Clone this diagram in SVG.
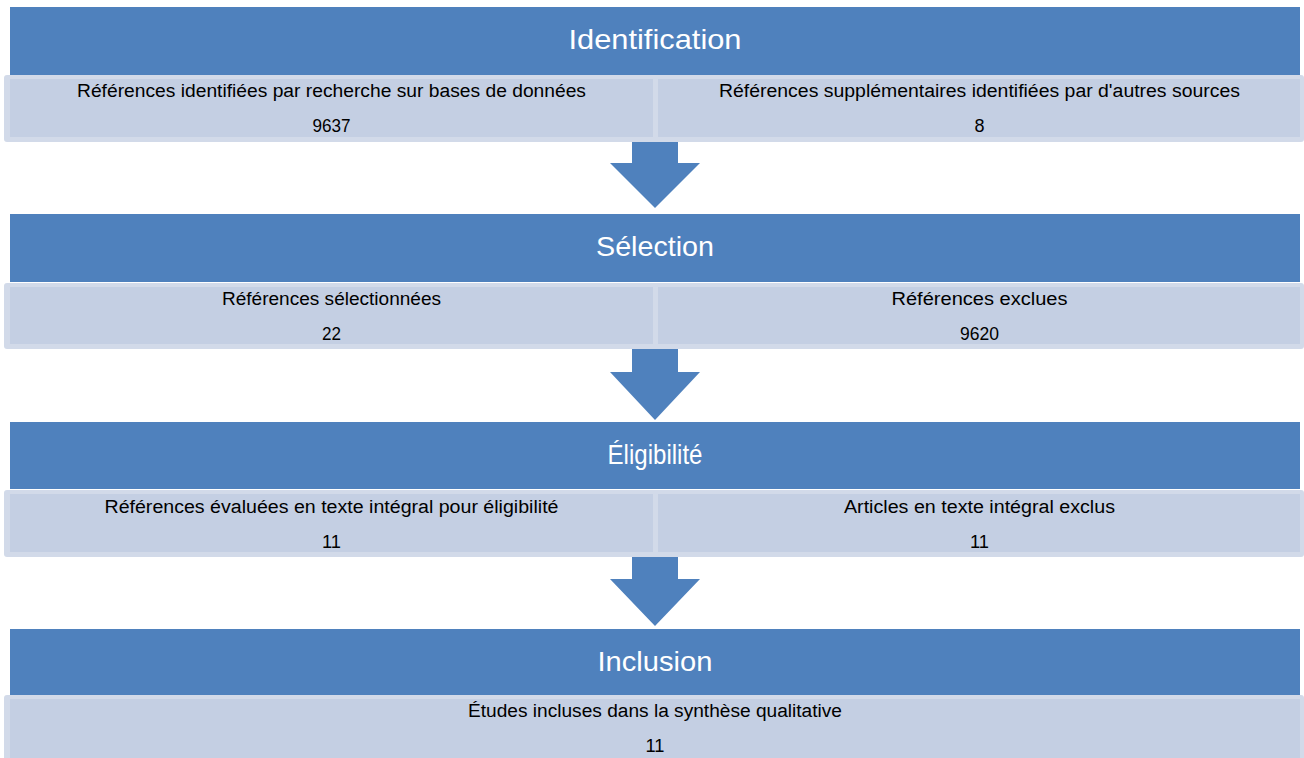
<svg xmlns="http://www.w3.org/2000/svg" width="1304" height="758" viewBox="0 0 1304 758">
<style>
.hdr{fill:#4f81bd}
.subo{fill:#d2dae9}
.subi{fill:#c4cfe3}
.arrow{fill:#4f81bd}
.ht{font-family:"Liberation Sans",Arial,sans-serif;font-size:28px;fill:#ffffff;text-anchor:middle}
.st{font-family:"Liberation Sans",Arial,sans-serif;font-size:18px;fill:#000000;text-anchor:middle}
</style>
<rect width="1304" height="758" fill="#ffffff"/>

<g id="identification">
<rect class="hdr" x="10" y="7" width="1290" height="68"/>
<text class="ht" x="655" y="49" textLength="173" lengthAdjust="spacingAndGlyphs">Identification</text>
</g>
<g id="identification-detail">
<rect class="subo" x="4" y="75" width="1300" height="67" rx="3"/>
<rect class="subi" x="10" y="79" width="643" height="58"/>
<rect class="subi" x="658" y="79" width="642" height="58"/>
<text class="st" x="331.5" y="97" textLength="509" lengthAdjust="spacingAndGlyphs">Références identifiées par recherche sur bases de données</text>
<text class="st" x="331.5" y="132" textLength="38" lengthAdjust="spacingAndGlyphs">9637</text>
<text class="st" x="979.5" y="97" textLength="521" lengthAdjust="spacingAndGlyphs">Références supplémentaires identifiées par d'autres sources</text>
<text class="st" x="979.5" y="132">8</text>
</g>

<g id="selection">
<rect class="hdr" x="10" y="214" width="1290" height="68"/>
<text class="ht" x="655" y="256" textLength="118" lengthAdjust="spacingAndGlyphs">Sélection</text>
</g>
<g id="selection-detail">
<rect class="subo" x="4" y="283" width="1300" height="66" rx="3"/>
<rect class="subi" x="10" y="287" width="643" height="57"/>
<rect class="subi" x="658" y="287" width="642" height="57"/>
<text class="st" x="331.5" y="305" textLength="219" lengthAdjust="spacingAndGlyphs">Références sélectionnées</text>
<text class="st" x="331.5" y="340" textLength="19" lengthAdjust="spacingAndGlyphs">22</text>
<text class="st" x="979.5" y="305" textLength="176" lengthAdjust="spacingAndGlyphs">Références exclues</text>
<text class="st" x="979.5" y="340" textLength="39" lengthAdjust="spacingAndGlyphs">9620</text>
</g>

<g id="eligibilite">
<rect class="hdr" x="10" y="422" width="1290" height="67"/>
<text class="ht" x="655" y="464" textLength="95" lengthAdjust="spacingAndGlyphs">Éligibilité</text>
</g>
<g id="eligibilite-detail">
<rect class="subo" x="4" y="490" width="1300" height="67" rx="3"/>
<rect class="subi" x="10" y="494" width="643" height="58"/>
<rect class="subi" x="658" y="494" width="642" height="58"/>
<text class="st" x="331.5" y="513" textLength="454" lengthAdjust="spacingAndGlyphs">Références évaluées en texte intégral pour éligibilité</text>
<text class="st" x="331.5" y="548" textLength="19" lengthAdjust="spacingAndGlyphs">11</text>
<text class="st" x="979.5" y="513" textLength="271" lengthAdjust="spacingAndGlyphs">Articles en texte intégral exclus</text>
<text class="st" x="979.5" y="548" textLength="19" lengthAdjust="spacingAndGlyphs">11</text>
</g>

<g id="inclusion">
<rect class="hdr" x="10" y="629" width="1290" height="66"/>
<text class="ht" x="655" y="671" textLength="115" lengthAdjust="spacingAndGlyphs">Inclusion</text>
</g>
<g id="inclusion-detail">
<rect class="subo" x="4" y="695" width="1300" height="70" rx="3"/>
<rect class="subi" x="10" y="699" width="1290" height="66"/>
<text class="st" x="655" y="717" textLength="374" lengthAdjust="spacingAndGlyphs">Études incluses dans la synthèse qualitative</text>
<text class="st" x="655" y="752" textLength="19" lengthAdjust="spacingAndGlyphs">11</text>
</g>

<g id="connectors">
<path class="arrow" d="M632,142 H678 V163 H700 L655,208 L610,163 H632 Z"/>
<path class="arrow" d="M632,349 H678 V372 H700 L655,420 L610,372 H632 Z"/>
<path class="arrow" d="M632,557 H678 V579 H700 L655,626 L610,579 H632 Z"/>
</g>
</svg>
